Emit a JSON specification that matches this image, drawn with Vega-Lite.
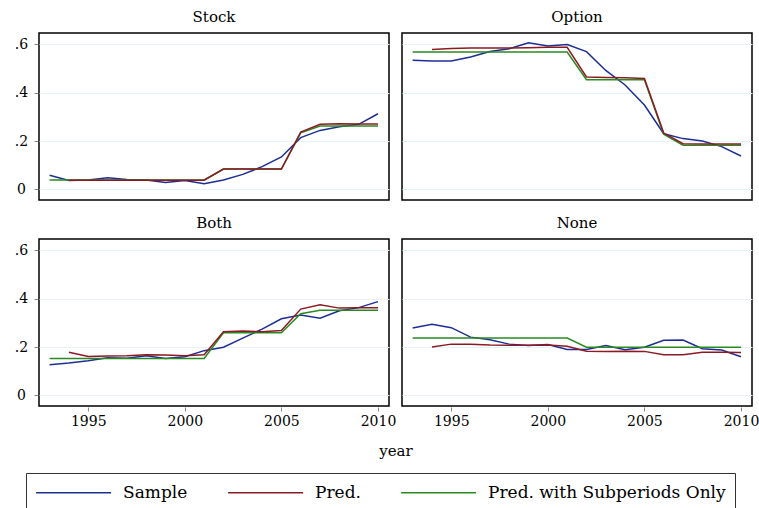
{
  "$schema": "https://vega.github.io/schema/vega-lite/v6.json",
  "padding": {"left": 14, "top": 9, "right": 5, "bottom": 0},
  "background": "white",
  "data": {"values": [
    {"panel":"Stock","year":1993,"S":0.058,"P":null,"G":0.039},
    {"panel":"Stock","year":1994,"S":0.037,"P":0.038,"G":0.039},
    {"panel":"Stock","year":1995,"S":0.039,"P":0.038,"G":0.039},
    {"panel":"Stock","year":1996,"S":0.048,"P":0.038,"G":0.039},
    {"panel":"Stock","year":1997,"S":0.041,"P":0.038,"G":0.039},
    {"panel":"Stock","year":1998,"S":0.039,"P":0.038,"G":0.039},
    {"panel":"Stock","year":1999,"S":0.028,"P":0.038,"G":0.039},
    {"panel":"Stock","year":2000,"S":0.037,"P":0.038,"G":0.039},
    {"panel":"Stock","year":2001,"S":0.023,"P":0.038,"G":0.039},
    {"panel":"Stock","year":2002,"S":0.039,"P":0.084,"G":0.084},
    {"panel":"Stock","year":2003,"S":0.062,"P":0.084,"G":0.084},
    {"panel":"Stock","year":2004,"S":0.094,"P":0.084,"G":0.084},
    {"panel":"Stock","year":2005,"S":0.134,"P":0.084,"G":0.084},
    {"panel":"Stock","year":2006,"S":0.214,"P":0.237,"G":0.234},
    {"panel":"Stock","year":2007,"S":0.244,"P":0.269,"G":0.262},
    {"panel":"Stock","year":2008,"S":0.259,"P":0.272,"G":0.262},
    {"panel":"Stock","year":2009,"S":0.269,"P":0.270,"G":0.262},
    {"panel":"Stock","year":2010,"S":0.313,"P":0.270,"G":0.262},
    {"panel":"Option","year":1993,"S":0.534,"P":null,"G":0.568},
    {"panel":"Option","year":1994,"S":0.531,"P":0.579,"G":0.568},
    {"panel":"Option","year":1995,"S":0.531,"P":0.583,"G":0.568},
    {"panel":"Option","year":1996,"S":0.548,"P":0.585,"G":0.568},
    {"panel":"Option","year":1997,"S":0.570,"P":0.585,"G":0.568},
    {"panel":"Option","year":1998,"S":0.582,"P":0.585,"G":0.568},
    {"panel":"Option","year":1999,"S":0.607,"P":0.586,"G":0.568},
    {"panel":"Option","year":2000,"S":0.593,"P":0.588,"G":0.568},
    {"panel":"Option","year":2001,"S":0.599,"P":0.588,"G":0.568},
    {"panel":"Option","year":2002,"S":0.570,"P":0.465,"G":0.454},
    {"panel":"Option","year":2003,"S":0.492,"P":0.463,"G":0.454},
    {"panel":"Option","year":2004,"S":0.432,"P":0.462,"G":0.454},
    {"panel":"Option","year":2005,"S":0.349,"P":0.459,"G":0.454},
    {"panel":"Option","year":2006,"S":0.230,"P":0.233,"G":0.228},
    {"panel":"Option","year":2007,"S":0.210,"P":0.189,"G":0.183},
    {"panel":"Option","year":2008,"S":0.200,"P":0.188,"G":0.183},
    {"panel":"Option","year":2009,"S":0.177,"P":0.188,"G":0.183},
    {"panel":"Option","year":2010,"S":0.138,"P":0.188,"G":0.183},
    {"panel":"Both","year":1993,"S":0.127,"P":null,"G":0.153},
    {"panel":"Both","year":1994,"S":0.134,"P":0.178,"G":0.153},
    {"panel":"Both","year":1995,"S":0.143,"P":0.161,"G":0.153},
    {"panel":"Both","year":1996,"S":0.156,"P":0.163,"G":0.153},
    {"panel":"Both","year":1997,"S":0.154,"P":0.164,"G":0.153},
    {"panel":"Both","year":1998,"S":0.164,"P":0.168,"G":0.153},
    {"panel":"Both","year":1999,"S":0.153,"P":0.167,"G":0.153},
    {"panel":"Both","year":2000,"S":0.160,"P":0.164,"G":0.153},
    {"panel":"Both","year":2001,"S":0.185,"P":0.168,"G":0.153},
    {"panel":"Both","year":2002,"S":0.199,"P":0.263,"G":0.259},
    {"panel":"Both","year":2003,"S":0.237,"P":0.266,"G":0.259},
    {"panel":"Both","year":2004,"S":0.274,"P":0.263,"G":0.259},
    {"panel":"Both","year":2005,"S":0.317,"P":0.268,"G":0.259},
    {"panel":"Both","year":2006,"S":0.332,"P":0.357,"G":0.338},
    {"panel":"Both","year":2007,"S":0.319,"P":0.375,"G":0.352},
    {"panel":"Both","year":2008,"S":0.350,"P":0.361,"G":0.352},
    {"panel":"Both","year":2009,"S":0.363,"P":0.363,"G":0.352},
    {"panel":"Both","year":2010,"S":0.388,"P":0.363,"G":0.352},
    {"panel":"None","year":1993,"S":0.279,"P":null,"G":0.237},
    {"panel":"None","year":1994,"S":0.294,"P":0.200,"G":0.237},
    {"panel":"None","year":1995,"S":0.280,"P":0.212,"G":0.237},
    {"panel":"None","year":1996,"S":0.241,"P":0.211,"G":0.237},
    {"panel":"None","year":1997,"S":0.230,"P":0.208,"G":0.237},
    {"panel":"None","year":1998,"S":0.212,"P":0.207,"G":0.237},
    {"panel":"None","year":1999,"S":0.206,"P":0.207,"G":0.237},
    {"panel":"None","year":2000,"S":0.210,"P":0.208,"G":0.237},
    {"panel":"None","year":2001,"S":0.190,"P":0.203,"G":0.237},
    {"panel":"None","year":2002,"S":0.190,"P":0.183,"G":0.199},
    {"panel":"None","year":2003,"S":0.206,"P":0.181,"G":0.199},
    {"panel":"None","year":2004,"S":0.189,"P":0.183,"G":0.199},
    {"panel":"None","year":2005,"S":0.199,"P":0.182,"G":0.199},
    {"panel":"None","year":2006,"S":0.228,"P":0.168,"G":0.199},
    {"panel":"None","year":2007,"S":0.229,"P":0.168,"G":0.199},
    {"panel":"None","year":2008,"S":0.193,"P":0.178,"G":0.199},
    {"panel":"None","year":2009,"S":0.188,"P":0.178,"G":0.199},
    {"panel":"None","year":2010,"S":0.160,"P":0.177,"G":0.199}
  ]},
  "transform": [
    {"fold": ["S", "P", "G"], "as": ["series", "value"]},
    {"filter": "datum.value != null"}
  ],
  "facet": {
    "field": "panel",
    "type": "nominal",
    "sort": ["Stock", "Option", "Both", "None"],
    "header": {
      "title": "year",
      "titleOrient": "bottom",
      "titleFont": "DejaVu Serif",
      "titleFontSize": 15,
      "titleFontWeight": "normal",
      "titleColor": "black",
      "titlePadding": 16,
      "labelOrient": "top",
      "labelFont": "DejaVu Serif",
      "labelFontSize": 15,
      "labelColor": "black",
      "labelPadding": 8
    }
  },
  "columns": 2,
  "spacing": {"row": 14, "column": 11},
  "spec": {
    "width": 350,
    "height": 167,
    "mark": {"type": "line", "strokeWidth": 1.5, "clip": true},
    "encoding": {
      "x": {
        "field": "year", "type": "quantitative",
        "scale": {"domain": [1992.45, 2010.57], "nice": false, "zero": false},
        "axis": {"title": null, "values": [1995, 2000, 2005, 2010], "format": "d", "grid": false,
                 "domain": false, "tickSize": 4, "tickColor": "#888888", "labelPadding": 3,
                 "labelFont": "DejaVu Serif", "labelFontSize": 14, "labelColor": "black"}
      },
      "y": {
        "field": "value", "type": "quantitative",
        "scale": {"domain": [-0.044, 0.647], "nice": false, "zero": false},
        "axis": {"title": null, "values": [0, 0.2, 0.4, 0.6],
                 "labelExpr": "datum.value == 0 ? '0' : replace(format(datum.value, '.1f'), '0.', '.')",
                 "grid": true, "gridColor": "#e4f3f3", "gridWidth": 1,
                 "domain": false, "tickSize": 4, "tickColor": "#888888",
                 "labelAlign": "center", "labelPadding": 13,
                 "labelFont": "DejaVu Serif", "labelFontSize": 14, "labelColor": "black"}
      },
      "color": {
        "field": "series", "type": "nominal",
        "scale": {"domain": ["S", "P", "G"], "range": ["#1c2e94", "#8c1a24", "#2a8a22"]},
        "legend": {
          "title": null,
          "orient": "none",
          "legendX": -13,
          "legendY": 440,
          "direction": "horizontal",
          "labelExpr": "datum.value == 'S' ? 'Sample' : datum.value == 'P' ? 'Pred.' : 'Pred. with Subperiods Only'",
          "symbolType": "M-1,0H7",
          "symbolSize": 351,
          "symbolStrokeWidth": 1.5,
          "labelFont": "DejaVu Serif",
          "labelFontSize": 17,
          "labelColor": "black",
          "labelLimit": 400,
          "labelOffset": 67,
          "columnPadding": 37,
          "padding": 9,
          "strokeColor": "#333333"
        }
      },
      "order": {"field": "series", "sort": "descending"}
    }
  },
  "config": {
    "view": {"stroke": "black", "strokeWidth": 1.5}
  }
}
